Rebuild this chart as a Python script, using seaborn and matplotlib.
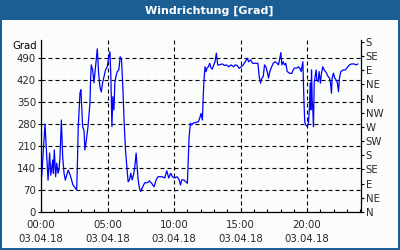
import matplotlib
matplotlib.use("Agg")
import matplotlib.pyplot as plt
import matplotlib.dates as mdates
from matplotlib.patches import Rectangle
import numpy as np
import pandas as pd
import seaborn as sns

# ---------------- data ----------------
title = "Windrichtung [Grad]"
day = "2018-04-03"
hours = [
    0.05, 0.30, 0.53, 0.65, 0.73, 0.88, 0.93, 1.0, 1.10, 1.18,
    1.28, 1.35, 1.43, 1.53, 1.63, 1.73, 1.83, 1.93, 2.05, 2.23,
    2.40, 2.68, 2.73, 2.80, 2.93, 3.0, 3.13, 3.23, 3.30, 3.38,
    3.53, 3.68, 3.73, 3.78, 3.88, 3.98, 4.05, 4.15, 4.23, 4.33,
    4.43, 4.53, 4.63, 4.73,
    4.85, 4.98, 5.10, 5.18, 5.25, 5.33, 5.40, 5.48, 5.55, 5.63,
    5.73, 5.85, 5.95, 6.05, 6.15, 6.25, 6.35, 6.45, 6.55, 6.65,
    6.75, 6.85, 6.95, 7.05, 7.15, 7.23, 7.30, 7.40, 7.50, 7.60,
    7.80, 8.0, 8.15, 8.35, 8.5, 8.65, 8.8, 9.1, 9.3, 9.45, 9.6,
    9.75, 9.88, 10.03, 10.23, 10.38, 10.48, 10.58, 10.73, 10.88, 11.0,
    11.05, 11.13, 11.23, 11.33, 11.43, 11.63, 11.83, 11.93, 12.03, 12.13,
    12.18, 12.25, 12.33, 12.4, 12.48, 12.58, 12.68, 12.78, 12.88, 12.98,
    13.08, 13.18, 13.28, 13.38, 13.63, 13.78, 13.93, 14.13, 14.28, 14.48,
    14.6, 14.75, 14.9, 15.05, 15.2, 15.35, 15.5, 15.6, 15.75, 15.9,
    16.1, 16.3, 16.4, 16.5, 16.6, 16.7, 16.8, 16.9, 17.0, 17.1,
    17.2, 17.3, 17.45, 17.6, 17.75, 17.85, 17.95, 18.03, 18.1, 18.2,
    18.3, 18.4, 18.5, 18.7, 18.86, 18.95, 19.05, 19.25, 19.35, 19.45, 19.55,
    19.68, 19.76, 19.82, 19.9, 20.03, 20.1, 20.18, 20.23, 20.28, 20.33,
    20.38, 20.43, 20.48, 20.53, 20.6, 20.68, 20.73, 20.83, 20.9, 21.0,
    21.08, 21.18, 21.28, 21.43, 21.58, 21.68, 21.76, 21.83, 21.88, 21.98,
    22.08, 22.18, 22.28, 22.36, 22.43, 22.53, 22.73, 22.88, 22.98, 23.18,
    23.33, 23.53, 23.68, 23.83,
]
wind_dir = [
    112, 279, 101, 187, 117, 165, 123, 197, 112, 155,
    123, 133, 175, 292, 175, 123, 101, 117, 133, 112,
    86, 70, 143, 270, 378, 388, 270, 260, 197, 219,
    270, 346, 425, 467, 451, 410, 441, 483, 518, 441,
    397, 381, 410, 429,
    451, 461, 493, 509, 430, 271, 366, 324, 409, 430,
    446, 451, 493, 483, 398, 283, 197, 144, 96, 102,
    123, 102, 117, 144, 187, 144, 102, 76, 65, 76,
    93, 93, 99, 89, 80, 102, 112, 112, 108, 131, 108,
    123, 112, 108, 112, 102, 86, 102, 102, 96, 91,
    144, 239, 282, 276, 282, 284, 287, 298, 313, 292,
    356, 419, 461, 446, 457, 461, 472, 457, 454, 467,
    477, 504, 467, 467, 470, 465, 467, 461, 467, 461,
    467, 465, 456, 461, 467, 477, 488, 477, 483, 472,
    472, 472, 430, 409, 425, 430, 467, 461, 446, 425,
    446, 457, 472, 477, 472, 467, 488, 506, 467, 477,
    467, 472, 446, 440, 440, 451, 457, 457, 461, 457, 446,
    477, 356, 287, 276, 271, 282, 334, 409, 324, 451,
    356, 324, 271, 409, 430, 451, 419, 414, 446, 409,
    441, 461, 451, 443, 430, 425, 409, 377, 425, 441,
    425, 419, 409, 382, 425, 446, 451, 451, 457, 467,
    470, 470, 467, 470,
]
x_tick_hours = [0, 5, 10, 15, 20]
left_ticks = [0, 70, 140, 210, 280, 350, 420, 490]
right_ticks = [0, 45, 90, 135, 180, 225, 270, 315, 360, 405, 450, 495, 540]
right_labels = ["N", "NE", "E", "SE", "S", "SW", "W", "NW", "N", "NE", "E", "SE", "S"]
y_label = "Grad"

# ---------------- style ----------------
sns.set_theme(style="white")
plt.rcParams["font.family"] = ["DejaVu Sans"]

blue = "#1b5e94"
bg = "#fbfdfb"

fig = plt.figure(figsize=(4, 2.5), dpi=100)
fig.patch.set_facecolor(blue)
inner = Rectangle((2 / 400, 2 / 250), 396 / 400, 228 / 250,
                  transform=fig.transFigure, facecolor=bg,
                  edgecolor="none", zorder=-10)
fig.add_artist(inner)
fig.text(0.5225, 1 - 10.5 / 250, title, color="white", fontsize=8,
         fontweight="bold", ha="center", va="center")

ax = fig.add_axes([41 / 400, 1 - 212 / 250, 320 / 400, 172 / 250])
ax.set_facecolor(bg)

start = pd.Timestamp(day)
df = pd.DataFrame({
    "time": start + pd.to_timedelta(hours, unit="h"),
    "dir": wind_dir,
})
sns.lineplot(data=df, x="time", y="dir", ax=ax, color="#0000ff",
             linewidth=0.9, estimator=None)

ax.set_xlim(start, start + pd.Timedelta(hours=24.05))
ax.set_ylim(0, 546)

major_times = [start + pd.Timedelta(hours=h) for h in x_tick_hours]
ax.set_xticks(major_times)
ax.xaxis.set_minor_locator(mdates.HourLocator())
ax.xaxis.set_major_formatter(mdates.DateFormatter("%H:%M\n%d.%m.%y"))
ax.set_yticks(left_ticks)

dash = (0, (3.6, 2.7))
ax.grid(True, axis="both", which="major", color="black", linewidth=0.8,
        linestyle=dash)
ax.set_xlabel("")
ax.set_ylabel("")

for s in ["left", "right", "bottom"]:
    ax.spines[s].set_visible(True)
    ax.spines[s].set_color("black")
    ax.spines[s].set_linewidth(0.9)
ax.spines["top"].set_visible(False)

ax.tick_params(axis="x", which="major", direction="in", length=3, width=0.8,
               color="black", labelsize=7.3, pad=5.5, bottom=True)
ax.tick_params(axis="x", which="minor", direction="in", length=2.5, width=0.8,
               color="black", bottom=True)
ax.tick_params(axis="y", which="major", direction="out", length=2, width=0.8,
               color="black", labelsize=7.3, pad=1.5, left=True)
for lab in ax.get_xticklabels():
    lab.set_linespacing(1.5)

ax2 = ax.twinx()
ax2.set_ylim(ax.get_ylim())
ax2.set_yticks(right_ticks)
ax2.set_yticklabels(right_labels)
ax2.tick_params(axis="y", direction="out", length=2.5, width=0.8,
                color="black", labelsize=7.3, pad=1, right=True)
for s in ax2.spines.values():
    s.set_visible(False)
ax2.grid(False)

ax.text(-0.0125, 0.965, y_label, transform=ax.transAxes, ha="right",
        va="center", fontsize=7.3, color="black")

fig.savefig("out.png", dpi=100, facecolor=fig.get_facecolor())
